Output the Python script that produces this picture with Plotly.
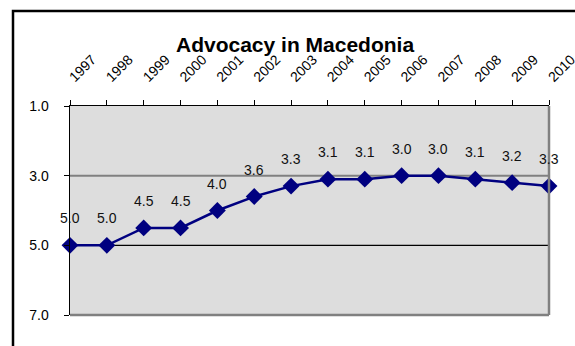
import plotly.graph_objects as go

years = [1997, 1998, 1999, 2000, 2001, 2002, 2003, 2004, 2005, 2006, 2007, 2008, 2009, 2010]
scores = [5.0, 5.0, 4.5, 4.5, 4.0, 3.6, 3.3, 3.1, 3.1, 3.0, 3.0, 3.1, 3.2, 3.3]
y_ticks = [1.0, 3.0, 5.0, 7.0]
title = "Advocacy in Macedonia"

FONT = "Arial, Liberation Sans, sans-serif"

W, H = 575, 346
L, R, T, B = 70, 26, 106, 31
PW = W - L - R
PH = H - T - B

fig = go.Figure()
fig.add_trace(go.Scatter(
    x=years, y=scores, mode="lines+markers",
    line=dict(color="#000080", width=2.5),
    marker=dict(symbol="diamond", size=13, color="#000080"),
    cliponaxis=False, hoverinfo="skip",
))

annotations = [
    dict(x=x, y=v, text=f"{v:.1f}", showarrow=False, yshift=27,
         font=dict(family=FONT, size=14, color="#111111"))
    for x, v in zip(years, scores)
]
annotations.append(dict(x=(295 - L) / PW, xref="paper", y=(H - B - 44) / PH, yref="paper",
                        yanchor="middle", text=f"<b>{title}</b>", showarrow=False,
                        font=dict(family=FONT, size=21, color="black")))

shapes = [
    dict(type="line", xref="paper", x0=0, x1=1, yref="y", y0=3, y1=3,
         line=dict(color="#808080", width=2), layer="below"),
    dict(type="line", xref="paper", x0=0, x1=1, yref="y", y0=5, y1=5,
         line=dict(color="black", width=1.2), layer="below"),
    dict(type="line", xref="paper", x0=1, x1=1, yref="paper", y0=0, y1=1,
         line=dict(color="#808080", width=2.5)),
    dict(type="line", xref="paper", x0=0, x1=1, yref="paper", y0=0, y1=0,
         line=dict(color="#808080", width=2.5)),
    dict(type="rect", xref="paper", yref="paper",
         x0=(13 - L) / PW, x1=1.3, y0=-0.5, y1=(H - B - 11) / PH,
         line=dict(color="black", width=2.5), layer="below"),
]

fig.update_layout(
    width=W, height=H,
    margin=dict(l=L, r=R, t=T, b=B, autoexpand=False),
    paper_bgcolor="white", plot_bgcolor="#dddddd",
    showlegend=False,
    annotations=annotations, shapes=shapes,
    font=dict(family=FONT, size=14, color="black"),
)
fig.update_xaxes(
    side="top", range=[years[0], years[-1]], tickmode="array", tickvals=years,
    ticktext=[str(y) for y in years], tickangle=-45, automargin=False,
    ticklabelstandoff=9, ticklabeloverflow="allow",
    ticks="outside", ticklen=5, tickcolor="black", showgrid=False,
    showline=True, linecolor="black", linewidth=1.5, zeroline=False,
    tickfont=dict(family=FONT, size=14, color="black"),
)
fig.update_yaxes(
    range=[7, 1], tickmode="array", tickvals=y_ticks, automargin=False,
    ticktext=[f"{v:.1f}" for v in y_ticks], ticklabelstandoff=12,
    ticks="outside", ticklen=5, tickcolor="black", showgrid=False,
    showline=True, linecolor="black", linewidth=1.5, zeroline=False,
    tickfont=dict(family=FONT, size=14, color="black"),
)

fig.write_html(
    "out.html",
    config={"displayModeBar": False, "staticPlot": True},
    post_script="document.body.style.margin='0';document.body.style.overflow='hidden';",
)
